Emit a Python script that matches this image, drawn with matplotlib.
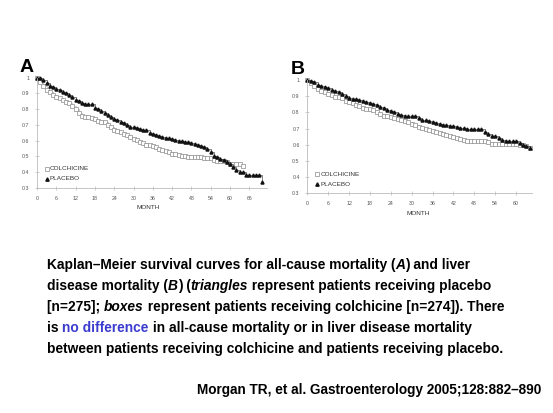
import matplotlib
matplotlib.use("Agg")
import matplotlib.pyplot as plt

plt.rcParams["font.family"] = ["Liberation Sans", "DejaVu Sans"]

# Panel A: all-cause mortality
a_placebo = [1.0, 0.995, 0.985, 0.965, 0.95, 0.94, 0.93, 0.92, 0.91, 0.9, 0.89, 0.875, 0.86, 0.85, 0.84,
             0.835, 0.83, 0.83, 0.81, 0.8, 0.79, 0.775, 0.765, 0.75, 0.74, 0.73, 0.72, 0.71, 0.70, 0.69,
             0.685, 0.68, 0.675, 0.67, 0.665, 0.65, 0.64, 0.635, 0.63, 0.625, 0.62, 0.615, 0.61, 0.605,
             0.60, 0.598, 0.595, 0.59, 0.585, 0.578, 0.57, 0.565, 0.56, 0.545, 0.53, 0.50, 0.497, 0.487,
             0.475, 0.465, 0.45, 0.435, 0.415, 0.40, 0.40, 0.385, 0.385, 0.385, 0.385, 0.385, 0.335]
a_colch = [1.0, 0.975, 0.947, 0.92, 0.91, 0.89, 0.88, 0.87, 0.858, 0.848, 0.837, 0.82, 0.80, 0.773, 0.758,
           0.752, 0.75, 0.745, 0.737, 0.728, 0.72, 0.72, 0.70, 0.685, 0.667, 0.662, 0.656, 0.645, 0.635,
           0.625, 0.614, 0.603, 0.593, 0.584, 0.576, 0.57, 0.565, 0.558, 0.55, 0.543, 0.535, 0.527, 0.518,
           0.515, 0.512, 0.506, 0.50, 0.498, 0.497, 0.497, 0.497, 0.495, 0.493, 0.493, 0.493, 0.476, 0.47,
           0.47, 0.47, 0.462, 0.455, 0.455, 0.455, 0.455, 0.44]

# Panel B: liver disease mortality
b_placebo = [1.0, 0.995, 0.99, 0.97, 0.96, 0.955, 0.95, 0.94, 0.932, 0.925, 0.915, 0.9, 0.89, 0.883, 0.88,
             0.878, 0.87, 0.862, 0.855, 0.85, 0.843, 0.835, 0.825, 0.815, 0.81, 0.8, 0.792, 0.785, 0.78,
             0.78, 0.778, 0.775, 0.765, 0.755, 0.75, 0.745, 0.74, 0.735, 0.73, 0.725, 0.72, 0.718, 0.715,
             0.71, 0.705, 0.702, 0.70, 0.698, 0.695, 0.695, 0.695, 0.68, 0.665, 0.655, 0.652, 0.64, 0.63,
             0.625, 0.625, 0.625, 0.622, 0.61, 0.60, 0.59, 0.578]
b_colch = [1.0, 0.98, 0.96, 0.945, 0.935, 0.925, 0.915, 0.905, 0.898, 0.892, 0.888, 0.87, 0.862, 0.855,
           0.848, 0.84, 0.828, 0.822, 0.82, 0.815, 0.805, 0.79, 0.78, 0.775, 0.77, 0.765, 0.758, 0.752,
           0.745, 0.738, 0.73, 0.72, 0.712, 0.705, 0.698, 0.692, 0.686, 0.68, 0.675, 0.668, 0.66, 0.652,
           0.645, 0.64, 0.635, 0.628, 0.625, 0.625, 0.625, 0.625, 0.625, 0.624, 0.62, 0.605, 0.603, 0.603,
           0.603, 0.603, 0.603, 0.603, 0.603, 0.60, 0.60, 0.59, 0.58]

x_ticks = list(range(0, 67, 6))
b_ticks = list(range(0, 61, 6))
y_ticks = [0.3, 0.4, 0.5, 0.6, 0.7, 0.8, 0.9, 1.0]
y_labels = ["0.3", "0.4", "0.5", "0.6", "0.7", "0.8", "0.9", "1"]

caption = [
    [("Kaplan\u2013Meier survival curves for all-cause mortality (", "normal", "k"), ("A", "italic", "k"),
     (") and liver", "normal", "k")],
    [("disease mortality (", "normal", "k"), ("B", "italic", "k"), (") (", "normal", "k"),
     ("triangles", "italic", "k"), (" represent patients receiving placebo", "normal", "k")],
    [("[n=275]; ", "normal", "k"), ("boxes", "italic", "k"),
     (" represent patients receiving colchicine [n=274]). There", "normal", "k")],
    [("is ", "normal", "k"), ("no difference", "normal", "#3b3bd0"),
     (" in all-cause mortality or in liver disease mortality", "normal", "k")],
    [("between patients receiving colchicine and patients receiving placebo.", "normal", "k")],
]
citation = "Morgan TR, et al. Gastroenterology 2005;128:882\u2013890"

W, H = 553, 413
fig = plt.figure(figsize=(W / 100, H / 100), dpi=100)


def panel(rect, colch, placebo, ticks, xmax, letter, letter_xy, leg_x, leg_y, month_xy):
    ax = fig.add_axes(rect)
    ax.plot(range(len(colch)), colch, drawstyle="steps-post", color="#aaaaaa", lw=0.4,
            marker="s", ms=2.2, mfc="white", mec="#8a8a8a", mew=0.5, clip_on=False)
    ax.plot(range(len(placebo)), placebo, drawstyle="steps-post", color="#222222", lw=0.4,
            marker="^", ms=2.2, mfc="#111111", mec="#111111", clip_on=False)
    ax.set_xlim(0, xmax)
    ax.set_ylim(0.3, 1.0)
    ax.set_xticks(ticks)
    ax.set_yticks(y_ticks)
    ax.set_yticklabels(y_labels)
    for s in ["top", "right"]:
        ax.spines[s].set_visible(False)
    for s in ["left", "bottom"]:
        ax.spines[s].set_color("#bbbbbb")
        ax.spines[s].set_linewidth(0.6)
    ax.tick_params(direction="inout", length=3, width=0.5, color="#bbbbbb",
                   labelsize=3.8, labelcolor="#555555", pad=4)
    # legend drawn by hand
    ax.plot([leg_x], [leg_y], marker="s", ms=2.4, mfc="white", mec="#8a8a8a", mew=0.5, ls="none")
    ax.plot([leg_x], [leg_y - 0.063], marker="^", ms=2.4, color="#111111", ls="none")
    ax.text(leg_x + 1.0, leg_y, "COLCHICINE", fontsize=4.6, color="#333333", va="center")
    ax.text(leg_x + 1.0, leg_y - 0.063, "PLACEBO", fontsize=4.6, color="#333333", va="center")
    fig.text(month_xy[0] / W, 1 - month_xy[1] / H, "MONTH", fontsize=4.6, color="#333333",
             ha="center", va="center")
    fig.text(letter_xy[0] / W, 1 - letter_xy[1] / H, letter, fontsize=14, fontweight="bold",
             ha="center", va="center")
    return ax


panel([37 / W, 1 - 188 / H, 230 / W, 110.3 / H], a_colch, a_placebo, x_ticks, 71.5,
      "A", (27, 68), 3.0, 0.421, (148, 207.5))
panel([307.3 / W, 1 - 193.3 / H, 224.4 / W, 113.3 / H], b_colch, b_placebo, b_ticks, 64.5,
      "B", (298, 69), 2.9, 0.418, (418, 213))

# caption in runs of mixed style
fig.canvas.draw()
renderer = fig.canvas.get_renderer()
line_y = [265, 286, 307, 328, 349]
for runs, yy in zip(caption, line_y):
    x = 47
    for txt, style, col in runs:
        t = fig.text(x / W, 1 - yy / H, txt, fontsize=9.9, fontweight="bold", fontstyle=style,
                     color=col, va="center", ha="left")
        bb = t.get_window_extent(renderer=renderer)
        x += bb.width

fig.text(541.7 / W, 1 - 390 / H, citation, fontsize=9.8, fontweight="bold", ha="right", va="center")

fig.savefig("out.png", dpi=100)
